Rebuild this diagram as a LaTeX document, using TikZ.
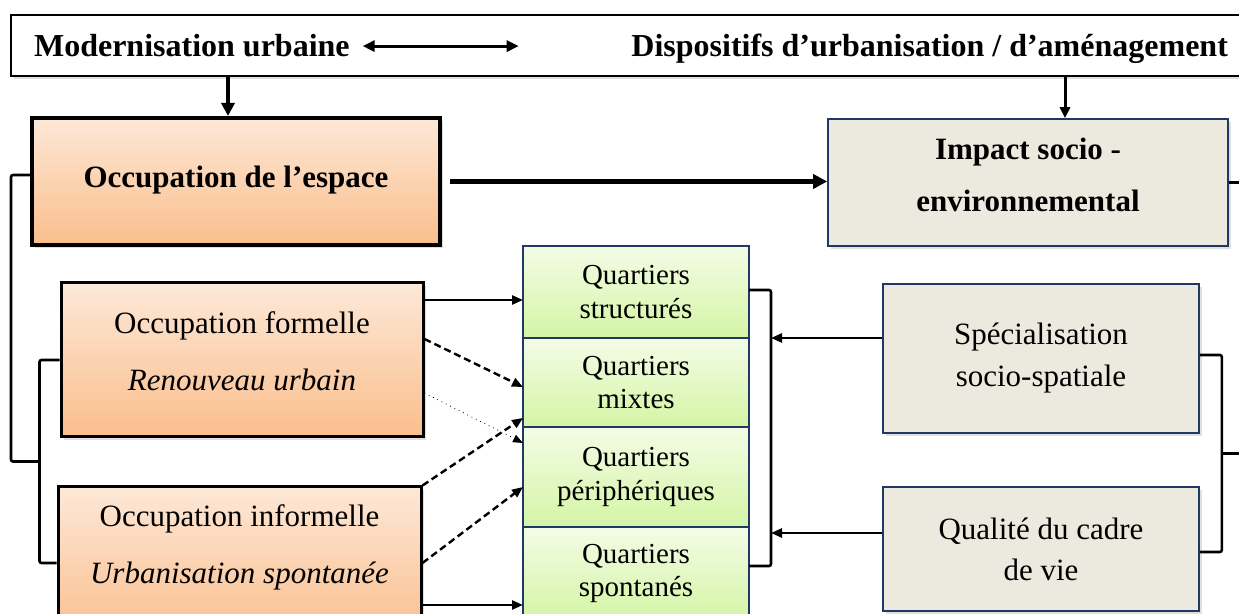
\documentclass[tikz,border=0pt]{standalone}
\usepackage{fontspec}
\setmainfont{Liberation Serif}
\usetikzlibrary{arrows.meta, positioning, calc, shadows}

\begin{document}
\begin{tikzpicture}[x=0.5pt, y=-0.5pt, font=\fontsize{15.5}{21}\selectfont]
  % Define colors for the different box families
  \definecolor{orangetop}{RGB}{253, 232, 215}
  \definecolor{orangebot}{RGB}{250, 190, 140}
  \definecolor{greentop}{RGB}{243, 252, 230}
  \definecolor{greenbot}{RGB}{212, 245, 165}
  \definecolor{beigefill}{RGB}{236, 233, 223}
  \definecolor{boxblue}{RGB}{31, 56, 100}

  % Styles
  \tikzset{
    softshadow/.style={drop shadow={opacity=0.25, shadow xshift=1.5pt, shadow yshift=-1.5pt}},
    orangebox/.style={draw=black, top color=orangetop, bottom color=orangebot, align=center, inner sep=0pt, softshadow},
    beigebox/.style={draw=boxblue, line width=0.8pt, fill=beigefill, align=center, inner sep=0pt, softshadow},
    quartier/.style={draw=boxblue, line width=0.7pt, top color=greentop, bottom color=greenbot, align=center,
      inner sep=0pt, outer sep=0pt, minimum width=113pt, font=\fontsize{14.5}{16.75}\selectfont},
    link/.style={line width=1.3pt, -{Triangle[length=5.5pt,width=4.5pt]}},
    dashlink/.style={link, line width=1.2pt, dash pattern=on 3.5pt off 2pt},
    dotlink/.style={line width=0.4pt, dotted, -{Triangle[length=5pt,width=4pt]}},
    bracket/.style={line width=1.3pt, rounded corners=1pt},
  }

  % Canvas of the picture (cut on the right and at the bottom)
  \useasboundingbox (0,0) rectangle (1239,614);
  \clip (0,0) rectangle (1239,614);

  % Top banner
  \node[draw, line width=0.8pt, fill=white, minimum width=619.5pt, minimum height=30.5pt, inner sep=0pt, softshadow]
    (banner) at (630.5,45.5) {};
  \node[anchor=base west, font=\fontsize{16}{19}\selectfont\bfseries] (modern) at (27,57) {Modernisation urbaine};
  \node[anchor=base east, font=\fontsize{16}{19}\selectfont\bfseries] (dispo) at (1235,57) {Dispositifs d’urbanisation / d’aménagement};
  \draw[line width=1.5pt, {Triangle[length=6pt,width=5.5pt]}-{Triangle[length=6pt,width=5.5pt]}]
    ([xshift=3pt]modern.east) -- ++(78pt,0);

  % Main boxes
  \node[orangebox, line width=2pt, minimum width=204pt, minimum height=63.5pt, font=\fontsize{15.5}{19}\selectfont\bfseries]
    (espace) at (236,181.5) {\raisebox{4.5pt}{Occupation de l’espace}};
  \node[beigebox, minimum width=200pt, minimum height=63.5pt, text depth=8pt, font=\fontsize{15.5}{26}\selectfont\bfseries]
    (impact) at (1028,182.5) {Impact socio -\\environnemental};

  % Occupation types
  \node[orangebox, line width=1.5pt, minimum width=181pt, minimum height=77pt, text depth=9pt, font=\fontsize{15.5}{28.5}\selectfont]
    (formelle) at (242,360) {Occupation formelle\\\textit{Renouveau urbain}};
  \node[orangebox, line width=1.5pt, minimum width=181.5pt, minimum height=76pt, text depth=19pt, font=\fontsize{15.5}{28.5}\selectfont]
    (informelle) at (239.5,563) {Occupation informelle\\\textit{Urbanisation spontanée}};

  % Quartiers column
  \node[quartier, minimum height=46pt] (q1) at (636,292) {Quartiers\\structurés};
  \node[quartier, minimum height=44.5pt, below=0pt of q1] (q2) {Quartiers\\mixtes};
  \node[quartier, minimum height=50pt, below=0pt of q2] (q3) {Quartiers\\périphériques};
  \node[quartier, minimum height=46.5pt, below=0pt of q3] (q4) {Quartiers\\spontanés};

  % Socio-environmental factors
  \node[beigebox, minimum width=158pt, minimum height=74.5pt, font=\fontsize{15.5}{21}\selectfont]
    (spec) at (1041,358.5) {Spécialisation\\socio-spatiale};
  \node[beigebox, minimum width=158pt, minimum height=62pt, font=\fontsize{15.5}{20.5}\selectfont]
    (qual) at (1041,549) {Qualité du cadre\\de vie};

  % Vertical arrows from the banner
  \draw[line width=2pt, -{Triangle[length=6.5pt,width=6.5pt]}]
    ([xshift=-4pt]espace.north |- banner.south) -- ([xshift=-4pt]espace.north);
  \draw[line width=1.5pt, -{Triangle[length=5.5pt,width=5pt]}]
    ([xshift=18.5pt]impact.north |- banner.south) -- ([xshift=18.5pt]impact.north);

  % Occupation -> impact
  \draw[line width=2.5pt, -{Triangle[length=7pt,width=7pt]}]
    ([xshift=4pt]espace.east) -- (espace.east -| impact.west);
  \draw[line width=1.3pt] (impact.east) -- ++(10pt,0);

  % Left brackets
  \coordinate (ibr) at ([xshift=-10pt]formelle.west);
  \draw[bracket] (formelle.west) -- (ibr) -- (ibr |- informelle.west) -- (informelle.west);
  \draw[bracket] ([yshift=3.25pt]espace.west) -- ++(-9.5pt,0) |- ($(ibr)!0.5!(ibr |- informelle.west)$);

  % Occupation -> quartiers
  \draw[link] ([yshift=30pt]formelle.east) -- ([yshift=30pt]formelle.east -| q1.west);
  \draw[dashlink] ([yshift=10.5pt]formelle.east) -- ([yshift=-2.25pt]q2.west);
  \draw[dotlink] ([yshift=-16.5pt]formelle.east) -- ([yshift=17pt]q3.west);
  \draw[dashlink] (informelle.north east) -- ([yshift=-17.75pt]q2.west);
  \draw[dashlink] (informelle.east) -- ([yshift=-5pt]q3.west);
  \draw[link] ([yshift=-21pt]informelle.east) -- ([yshift=-21pt]informelle.east -| q4.west);

  % Bracket on the quartiers
  \coordinate (qbr) at ([xshift=11pt]q1.east);
  \draw[bracket] ([yshift=1pt]q1.east) -- ([yshift=1pt]q1.east -| qbr)
    -- ([yshift=3.75pt]q4.east -| qbr) -- ([yshift=3.75pt]q4.east);
  \draw[link] ([yshift=10.25pt]spec.west) -- ([yshift=10.25pt]spec.west -| qbr);
  \draw[link] ([yshift=8pt]qual.west) -- ([yshift=8pt]qual.west -| qbr);

  % Bracket on the factors
  \coordinate (rbr) at ([xshift=11pt]spec.east);
  \draw[bracket] ([yshift=1.75pt]spec.east) -- ([yshift=1.75pt]spec.east -| rbr)
    -- ([yshift=-1.5pt]qual.east -| rbr) -- ([yshift=-1.5pt]qual.east);
  \draw[bracket] ($(spec.east -| rbr)!0.5!(qual.east -| rbr)$) -- ++(20pt,0);

\end{tikzpicture}
\end{document}
